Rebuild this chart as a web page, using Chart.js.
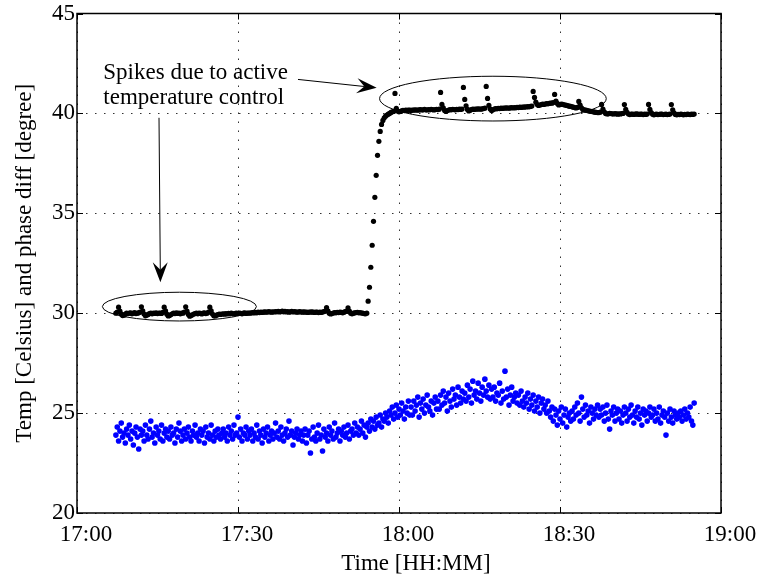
<!DOCTYPE html>
<html>
<head>
<meta charset="utf-8">
<script src="https://cdn.jsdelivr.net/npm/chart.js@4.4.0/dist/chart.umd.min.js"></script>
<style>
  html, body { margin: 0; padding: 0; background: #fff; }
  #wrap { width: 760px; height: 577px; }
</style>
</head>
<body>
<div id="wrap"><canvas id="plot" width="760" height="577"></canvas></div>
<script>
// samples: one every 15 s, first one at 17:07:15 (minutes after 17:00)
const sampleStart = 7.25;
const sampleStep = 0.25;

const xTicks = [0, 30, 60, 90, 120];   // 17:00 .. 19:00
const yTicks = [20, 25, 30, 35, 40, 45];

const yTitle = 'Temp [Celsius] and phase diff [degree]';
const xTitle = 'Time [HH:MM]';
const noteLines = ['Spikes due to active', 'temperature control'];

// temperature (black)
const tempValues = [
  30.0, 30.05, 30.3, 30.1, 29.95, 29.88, 29.9, 29.95, 30.0, 29.98, 30.0, 30.02, 29.97, 30.0, 30.03, 29.98, 30.0, 30.02, 30.05, 30.32,
  30.12, 29.96, 29.87, 29.9, 29.94, 29.98, 30.0, 29.97, 30.01, 29.99, 30.02, 29.98, 30.0, 30.01, 29.99, 30.04, 30.3, 30.12, 29.95, 29.86,
  29.88, 29.93, 29.97, 30.0, 29.98, 30.02, 29.99, 30.0, 29.97, 30.01, 30.0, 30.06, 30.32, 30.1, 29.94, 29.85, 29.88, 29.92, 29.96, 29.98,
  30.0, 29.97, 30.01, 29.99, 29.96, 30.0, 30.02, 29.98, 30.0, 30.05, 30.3, 30.12, 29.96, 29.87, 29.86, 29.9, 29.93, 29.95, 29.94, 29.96,
  29.97, 29.95, 29.98, 29.96, 29.99, 29.97, 30.0, 29.98, 29.96, 29.99, 30.0, 29.98, 30.01, 29.99, 29.97, 30.0, 30.02, 29.99, 30.0, 30.01,
  30.0, 30.02, 30.03, 30.01, 30.04, 30.02, 30.05, 30.03, 30.06, 30.04, 30.05, 30.07, 30.05, 30.06, 30.08, 30.06, 30.05, 30.07, 30.06, 30.08,
  30.07, 30.09, 30.06, 30.08, 30.1, 30.07, 30.09, 30.06, 30.08, 30.05, 30.07, 30.09, 30.06, 30.08, 30.07, 30.05, 30.06, 30.08, 30.06, 30.05,
  30.07, 30.05, 30.06, 30.04, 30.06, 30.05, 30.07, 30.05, 30.04, 30.06, 30.05, 30.03, 30.05, 30.04, 30.06, 30.08, 30.1, 30.28, 30.12, 30.0,
  29.96, 29.98, 30.01, 30.03, 30.02, 30.04, 30.03, 30.05, 30.04, 30.02, 30.05, 30.08, 30.1, 30.27, 30.1, 30.0, 29.97, 30.0, 30.02, 30.03,
  30.04, 30.02, 30.03, 30.01, 30.0, 29.98, 29.97, 30.0, 30.6, 31.3, 32.3, 33.4, 34.6, 35.8, 36.9, 37.9, 38.6, 39.1, 39.45, 39.65,
  39.78, 39.86, 39.92, 39.96, 40.0, 40.05, 40.08, 40.1, 41.0, 40.25, 40.12, 40.08, 40.1, 40.13, 40.15, 40.14, 40.16, 40.15, 40.17, 40.16,
  40.15, 40.17, 40.16, 40.18, 40.17, 40.16, 40.18, 40.19, 40.17, 40.18, 40.2, 40.18, 40.17, 40.19, 40.18, 40.2, 40.19, 40.17, 40.19, 40.2,
  40.19, 40.21, 41.05, 40.45, 40.28, 40.14, 40.1, 40.14, 40.17, 40.19, 40.18, 40.2, 40.19, 40.18, 40.2, 40.19, 40.21, 40.2, 40.22, 41.3,
  40.7, 40.38, 40.2, 40.12, 40.16, 40.19, 40.21, 40.2, 40.22, 40.21, 40.23, 40.22, 40.21, 40.23, 40.24, 40.26, 41.35, 40.75, 40.4, 40.22,
  40.14, 40.18, 40.22, 40.24, 40.23, 40.25, 40.24, 40.26, 40.25, 40.27, 40.26, 40.28, 40.27, 40.26, 40.28, 40.29, 40.27, 40.29, 40.28, 40.3,
  40.29, 40.31, 40.3, 40.32, 40.31, 40.33, 40.32, 40.34, 40.33, 40.35, 40.37, 41.1, 40.8, 40.56, 40.44, 40.4, 40.42, 40.44, 40.46, 40.45,
  40.47, 40.49, 40.48, 40.5, 40.52, 40.51, 40.54, 40.95, 40.62, 40.5, 40.42, 40.44, 40.46, 40.45, 40.43, 40.42, 40.4, 40.38, 40.36, 40.35,
  40.33, 40.31, 40.29, 40.27, 40.3, 40.6, 40.42, 40.28, 40.2, 40.18, 40.16, 40.15, 40.13, 40.12, 40.1, 40.09, 40.08, 40.06, 40.05, 40.04,
  40.04, 40.06, 40.45, 40.22, 40.08, 40.0, 39.97, 39.98, 40.0, 39.99, 39.98, 39.97, 39.99, 39.98, 39.96, 39.98, 39.97, 39.99, 40.0, 40.44,
  40.2, 40.05, 39.97, 39.94, 39.96, 39.97, 39.95, 39.96, 39.98, 39.96, 39.95, 39.97, 39.96, 39.94, 39.96, 39.95, 39.97, 40.45, 40.2, 40.04,
  39.96, 39.93, 39.95, 39.96, 39.94, 39.95, 39.97, 39.96, 39.94, 39.95, 39.96, 39.94, 39.95, 39.97, 40.44, 40.18, 40.03, 39.95, 39.93, 39.95,
  39.94, 39.96, 39.95, 39.93, 39.95, 39.94, 39.96, 39.95, 39.94, 39.96, 39.95, 39.97
];

// phase difference (blue)
const phaseValues = [
  23.9, 24.3, 23.6, 24.1, 24.5, 23.8, 24.0, 23.5, 24.2, 23.9, 24.4, 23.7, 24.1, 23.4, 24.0, 24.3, 23.8, 23.2, 24.2, 23.9,
  24.1, 23.6, 24.4, 23.9, 23.7, 24.2, 24.6, 23.8, 24.0, 23.5, 24.3, 23.9, 24.1, 23.7, 24.4, 23.6, 24.0, 24.2, 23.8, 24.1,
  23.7, 24.3, 23.9, 24.0, 23.5, 24.2, 23.8, 24.5, 24.1, 23.6, 23.9, 24.2, 23.7, 24.0, 24.3, 23.8, 23.6, 24.1, 23.9, 24.4,
  23.8, 24.0, 23.6, 24.2, 23.9, 24.1, 23.5, 24.3, 23.8, 24.0, 23.7, 24.4, 23.9, 23.6, 24.1, 23.8, 24.2, 23.9, 23.7, 24.0,
  24.2, 23.8, 24.0, 23.6, 24.3, 23.9, 24.1, 23.7, 24.4, 23.9, 24.0, 24.8, 23.8, 24.2, 23.6, 24.0, 23.9, 24.3, 23.7, 24.1,
  23.9, 24.2, 23.6, 24.0, 23.8, 24.4, 23.7, 24.1, 23.9, 23.5, 24.2, 23.8, 24.0, 24.3, 23.6, 23.9, 24.1, 23.7, 24.0, 24.5,
  23.8, 24.1, 23.7, 24.3, 23.9, 23.6, 24.0, 24.2, 23.8, 24.6, 23.9, 24.1, 23.4, 23.8, 24.0, 24.2, 23.7, 23.9, 24.1, 23.6,
  23.9, 24.2, 23.5, 23.9, 24.1, 23.0, 23.7, 24.3, 23.8, 23.6, 24.0, 24.4, 23.7, 23.9, 23.1, 24.2, 23.8, 24.0, 23.6, 24.3,
  23.9, 24.1, 23.7, 24.5, 23.8, 24.0, 24.2, 23.6, 24.1, 23.9, 24.3, 23.8, 24.0, 24.4, 23.7, 24.1, 24.2, 23.9, 24.5, 24.0,
  24.3, 23.9, 24.2, 24.6, 24.0, 24.4, 23.8, 24.3, 24.5, 24.1, 24.7, 24.3, 24.6, 24.2, 24.8, 24.4, 24.5, 24.9, 24.3, 24.7,
  24.6, 25.0, 24.8, 24.5, 25.1, 24.9, 25.3, 24.7, 25.0, 25.4, 24.8, 25.2, 24.9, 25.5, 25.1, 24.7, 25.3, 25.0, 25.6, 24.9,
  25.3, 24.9, 25.6, 25.1, 25.4, 25.8, 24.8, 25.5, 25.2, 25.7, 25.0, 25.4, 25.9, 25.3, 25.1, 25.6, 24.9, 25.5, 25.8, 25.2,
  25.6, 25.2, 25.9, 25.4, 26.1, 25.5, 25.8, 25.1, 26.0, 25.6, 25.3, 26.2, 25.7, 25.9, 25.4, 26.3, 25.8, 25.5, 26.1, 25.7,
  26.0, 25.6, 26.4, 25.8, 26.2, 25.5, 26.6, 25.9, 26.1, 25.7, 26.5, 26.0, 25.6, 26.3, 25.9, 26.7, 26.1, 25.8, 26.4, 25.7,
  26.2, 25.8, 26.3, 25.6, 26.0, 25.9, 26.5, 25.5, 26.1, 25.7, 27.1, 25.8, 26.2, 25.4, 25.9, 26.3, 25.6, 25.8, 26.0, 25.5,
  25.9, 25.4, 26.1, 25.6, 25.3, 25.8, 25.5, 26.0, 25.2, 25.7, 25.4, 25.9, 25.1, 25.6, 25.3, 25.8, 25.0, 25.5, 25.7, 25.2,
  25.4, 25.0, 25.6, 25.1, 24.8, 25.3, 24.6, 25.2, 24.9, 24.4, 25.1, 24.7, 25.3, 24.5, 24.9, 25.2, 24.3, 24.8, 25.0, 24.6,
  25.1, 24.7, 25.3, 24.9, 25.5, 25.0, 24.6, 25.8, 25.2, 24.8, 25.4, 24.9, 25.1, 24.5, 25.3, 25.0, 24.7, 25.2, 24.9, 25.4,
  24.8, 25.2, 24.9, 25.3, 24.6, 25.0, 25.4, 24.7, 24.2, 25.1, 24.9, 25.3, 24.6, 25.0, 25.2, 24.7, 25.1, 24.5, 24.9, 25.3,
  25.0, 24.6, 25.2, 24.8, 25.4, 24.9, 24.5, 25.1, 24.8, 25.3, 24.7, 25.0, 24.4, 25.2, 24.9, 25.1, 24.6, 25.0, 25.3, 24.8,
  24.9, 25.2, 24.6, 25.0, 24.7, 25.3, 24.5, 24.9, 25.1, 24.8, 23.9, 25.0, 24.6, 25.2, 24.8, 24.5, 25.1, 24.9, 24.7, 25.0,
  24.8, 25.1, 24.6, 24.9, 25.2, 24.7, 25.0, 24.8, 25.3, 24.6, 24.4, 25.5
];

// annotation placement, in data units (minutes after 17:00, degrees)
const notes = {
  text: { x: 4.9, y: 41.71, lineGap: 1.25 },
  ellipses: [
    { cx: 19.08, cy: 30.33, rx: 14.35, ry: 0.72 },
    { cx: 77.5, cy: 40.74, rx: 21.12, ry: 1.12 }
  ],
  arrows: [
    { x1: 41.18, y1: 41.70, x2: 55.84, y2: 41.28 },
    { x1: 15.28, y1: 39.78, x2: 15.54, y2: 31.55 }
  ]
};

const serif = '"Liberation Serif", "Times New Roman", serif';

var toPoints = function(vals) {
  return vals.map((v, i) => ({ x: sampleStart + i * sampleStep, y: v }));
};

var clock = function(v) {
  const h = 17 + Math.floor(v / 60);
  const m = v % 60;
  return h + ':' + String(m).padStart(2, '0');
};

var drawArrow = function(ctx, x1, y1, x2, y2) {
  const len = 20, half = 7.5;
  const dx = x2 - x1, dy = y2 - y1;
  const d = Math.hypot(dx, dy);
  const ux = dx / d, uy = dy / d;
  const nx = -uy, ny = ux;
  const bx = x2 - ux * len, by = y2 - uy * len;
  const notchX = x2 - ux * len * 0.62, notchY = y2 - uy * len * 0.62;
  ctx.beginPath();
  ctx.moveTo(x1, y1);
  ctx.lineTo(notchX, notchY);
  ctx.stroke();
  ctx.beginPath();
  ctx.moveTo(x2, y2);
  ctx.lineTo(bx + nx * half, by + ny * half);
  ctx.lineTo(notchX, notchY);
  ctx.lineTo(bx - nx * half, by - ny * half);
  ctx.closePath();
  ctx.fill();
};

const boxAndNotes = {
  id: 'boxAndNotes',
  afterDatasetsDraw(chart) {
    const ctx = chart.ctx;
    const a = chart.chartArea;
    const xs = chart.scales.x, ys = chart.scales.y;
    ctx.save();
    ctx.strokeStyle = '#000';
    ctx.fillStyle = '#000';

    // inward tick marks on all four sides
    ctx.lineWidth = 1;
    ctx.beginPath();
    xTicks.forEach(t => {
      const px = Math.round(xs.getPixelForValue(t)) + 0.5;
      ctx.moveTo(px, a.bottom); ctx.lineTo(px, a.bottom - 6);
      ctx.moveTo(px, a.top); ctx.lineTo(px, a.top + 6);
    });
    yTicks.forEach(t => {
      const py = Math.round(ys.getPixelForValue(t)) + 0.5;
      ctx.moveTo(a.left, py); ctx.lineTo(a.left + 6, py);
      ctx.moveTo(a.right, py); ctx.lineTo(a.right - 6, py);
    });
    ctx.stroke();

    // axes box
    ctx.lineWidth = 1.5;
    ctx.strokeRect(a.left, a.top, a.right - a.left, a.bottom - a.top);

    // ellipses
    ctx.lineWidth = 1;
    notes.ellipses.forEach(e => {
      const cx = xs.getPixelForValue(e.cx), cy = ys.getPixelForValue(e.cy);
      const rx = xs.getPixelForValue(e.cx + e.rx) - cx;
      const ry = cy - ys.getPixelForValue(e.cy + e.ry);
      ctx.beginPath();
      ctx.ellipse(cx, cy, rx, ry, 0, 0, Math.PI * 2);
      ctx.stroke();
    });

    // arrows
    notes.arrows.forEach(r => {
      drawArrow(ctx, xs.getPixelForValue(r.x1), ys.getPixelForValue(r.y1),
                xs.getPixelForValue(r.x2), ys.getPixelForValue(r.y2));
    });

    // note text
    ctx.font = '23px ' + serif;
    ctx.textAlign = 'left';
    ctx.textBaseline = 'alphabetic';
    noteLines.forEach((s, i) => {
      ctx.fillText(s, xs.getPixelForValue(notes.text.x),
                   ys.getPixelForValue(notes.text.y - i * notes.text.lineGap));
    });

    // x axis title (sits a little right of centre in the original)
    ctx.textAlign = 'center';
    ctx.fillText(xTitle, (a.left + a.right) / 2 + 17, 570);
    ctx.restore();
  }
};

var myChart = new Chart(document.getElementById('plot'), {
  type: 'scatter',
  data: {
    datasets: [
      {
        label: 'phase diff',
        data: toPoints(phaseValues),
        backgroundColor: '#0000ff',
        borderWidth: 0,
        pointRadius: 2.8
      },
      {
        label: 'temperature',
        data: toPoints(tempValues),
        backgroundColor: '#000000',
        borderWidth: 0,
        pointRadius: 2.6
      }
    ]
  },
  options: {
    responsive: false,
    animation: false,
    devicePixelRatio: 1,
    layout: { padding: { top: 12, right: 39, left: 0, bottom: 0 } },
    plugins: {
      legend: { display: false },
      tooltip: { enabled: false }
    },
    scales: {
      x: {
        type: 'linear',
        min: 0,
        max: 120,
        afterFit: s => { s.height = 64; },
        afterBuildTicks: s => { s.ticks = xTicks.map(v => ({ value: v })); },
        ticks: {
          callback: v => clock(v),
          font: { family: serif, size: 23, lineHeight: 1 },
          color: '#000',
          padding: 10,
          labelOffset: 9,
          maxRotation: 0,
          autoSkip: false
        },
        grid: { color: '#333', lineWidth: 1, drawTicks: false },
        border: { display: false, dash: [1.5, 7.5] }
      },
      y: {
        min: 20,
        max: 45,
        afterFit: s => { s.width = 77; },
        afterBuildTicks: s => { s.ticks = yTicks.map(v => ({ value: v })); },
        ticks: {
          font: { family: serif, size: 23, lineHeight: 1 },
          color: '#000',
          padding: 2
        },
        title: {
          display: true,
          text: yTitle,
          font: { family: serif, size: 23, lineHeight: 1.2 },
          color: '#000',
          padding: { top: 11, bottom: 0 }
        },
        grid: { color: '#333', lineWidth: 1, drawTicks: false },
        border: { display: false, dash: [1.5, 7.5] }
      }
    }
  },
  plugins: [boxAndNotes]
});
</script>
</body>
</html>
